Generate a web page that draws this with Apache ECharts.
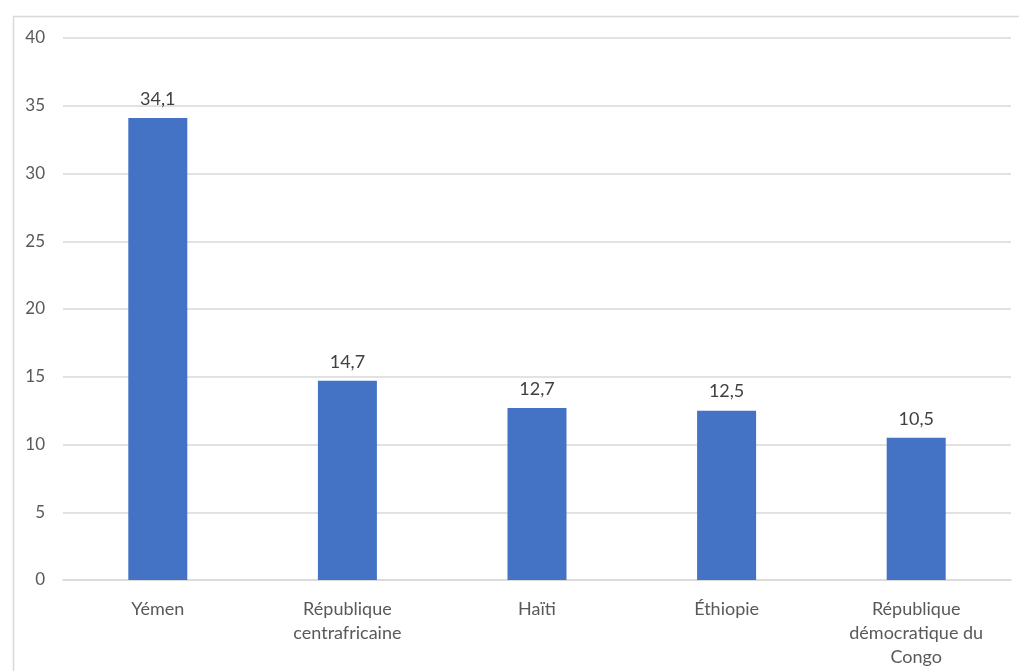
<!DOCTYPE html>
<html>
<head>
<meta charset="utf-8">
<script src="https://cdn.jsdelivr.net/npm/echarts@6/dist/echarts.min.js"></script>
<style>
  html, body { margin: 0; padding: 0; background: #fff; }
  #chart { width: 1019px; height: 671px; }
</style>
</head>
<body>
<div id="chart"></div>
<script>
// données
const pays = [
  "Yémen",
  "République\ncentrafricaine",
  "Haïti",
  "Éthiopie",
  "République\ndémocratique du\nCongo",
];
const valeurs = [34.1, 14.7, 12.7, 12.5, 10.5];
const yTicks = [0, 5, 10, 15, 20, 25, 30, 35, 40];

const font = "Lato, 'Open Sans', sans-serif";
const myChart = echarts.init(document.getElementById("chart"));

const option = {
  animation: false,
  graphic: [
    {
      type: "rect",
      left: 11,
      top: 14,
      shape: { width: 1020, height: 680 },
      style: { fill: "none", stroke: "#d9d9d9", lineWidth: 1.5 },
      silent: true,
    },
  ],
  grid: {
    left: 63,
    right: 8,
    top: 38,
    bottom: 91,
    containLabel: false,
  },
  xAxis: {
    type: "category",
    data: pays,
    axisTick: { show: false },
    axisLine: { lineStyle: { color: "#d9d9d9", width: 1.5 } },
    axisLabel: {
      color: "#595959",
      fontFamily: font,
      fontSize: 18,
      lineHeight: 24,
      margin: 17,
      interval: 0,
    },
  },
  yAxis: {
    type: "value",
    min: yTicks[0],
    max: yTicks[yTicks.length - 1],
    interval: 5,
    axisLine: { show: false },
    axisTick: { show: false },
    splitLine: { lineStyle: { color: "#d9d9d9", width: 1.5 } },
    axisLabel: {
      color: "#595959",
      fontFamily: font,
      fontSize: 17,
      margin: 18,
    },
  },
  series: [
    {
      type: "bar",
      data: valeurs,
      barWidth: 59,
      itemStyle: { color: "#4472C4" },
      label: {
        show: true,
        position: "top",
        distance: 10,
        color: "#404040",
        fontFamily: font,
        fontSize: 18,
        formatter: (p) => String(p.value).replace(".", ","),
      },
    },
  ],
};

myChart.setOption(option);
</script>
</body>
</html>
